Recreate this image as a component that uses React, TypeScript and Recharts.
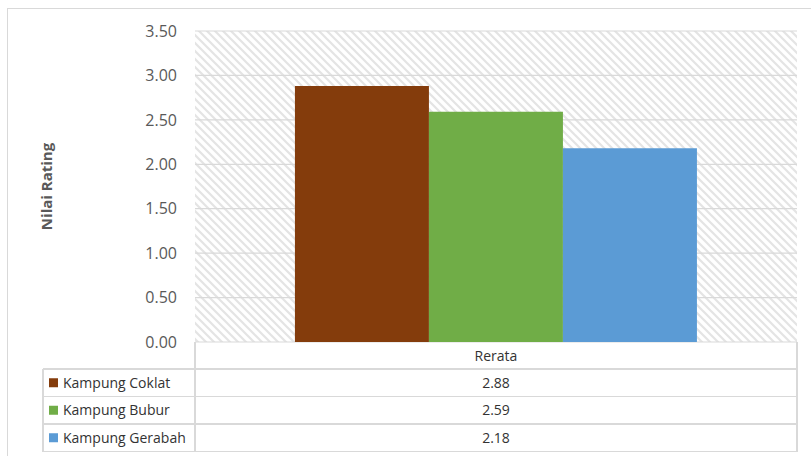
import React from 'react'
import { BarChart, Bar, XAxis, YAxis, CartesianGrid } from 'recharts'

const categories = ['Rerata']
const seriesNames = ['Kampung Coklat', 'Kampung Bubur', 'Kampung Gerabah']
const seriesValues = [2.88, 2.59, 2.18]
const seriesColors = ['#843C0C', '#70AD47', '#5B9BD5']
const yTicks = [0, 0.5, 1, 1.5, 2, 2.5, 3, 3.5]
const yTitle = 'Nilai Rating'

const W = 811
const H = 456
const PLOT_LEFT = 195
const PLOT_RIGHT = 797
const PLOT_TOP = 31
const PLOT_BOTTOM = 342
const TABLE_LEFT = 43
const HEADER_BOTTOM = 369
const ROW_H = 27.5

const FONT = '"Open Sans", "DejaVu Sans", sans-serif'
const GRID = '#d9d9d9'

const data = categories.map((name) => {
  const row: Record<string, string | number> = { name }
  seriesNames.forEach((s, i) => {
    row[s] = seriesValues[i]
  })
  return row
})

const AxisTitle = (props: any) => {
  const vb = props.viewBox || {}
  const x = (vb.x || 0) + 46
  const y = (vb.y || 0) + (vb.height || 0) / 2
  return (
    <text
      x={x}
      y={y}
      transform={`rotate(-90, ${x}, ${y})`}
      textAnchor="middle"
      dominantBaseline="central"
      fontFamily={FONT}
      fontSize={15}
      fontWeight="bold"
      fill="#595959"
    >
      {yTitle}
    </text>
  )
}

const DataTable = () => {
  const rowsTop = HEADER_BOTTOM
  const tableBottom = rowsTop + ROW_H * seriesNames.length
  const midX = (PLOT_LEFT + PLOT_RIGHT) / 2
  return (
    <svg
      width={W}
      height={H}
      style={{ position: 'absolute', left: 0, top: 0, pointerEvents: 'none' }}
    >
      {/* outer chart frame */}
      <rect x={7.5} y={8.5} width={W + 20} height={H + 20} fill="none" stroke={GRID} />
      <g stroke={GRID} strokeWidth={1.2} shapeRendering="crispEdges">
        <line x1={PLOT_LEFT} y1={PLOT_BOTTOM} x2={PLOT_LEFT} y2={tableBottom} />
        <line x1={PLOT_RIGHT} y1={PLOT_BOTTOM} x2={PLOT_RIGHT} y2={tableBottom} />
        <line x1={TABLE_LEFT} y1={rowsTop} x2={TABLE_LEFT} y2={tableBottom} />
        {[0, 1, 2, 3].map((i) => (
          <line
            key={i}
            x1={TABLE_LEFT}
            y1={rowsTop + ROW_H * i}
            x2={PLOT_RIGHT}
            y2={rowsTop + ROW_H * i}
          />
        ))}
      </g>
      {seriesNames.map((s, i) => {
        const cy = rowsTop + ROW_H * i + ROW_H / 2
        return (
          <g key={s} fontFamily={FONT} fontSize={14} fill="#333">
            <rect x={49} y={cy - 4.5} width={9} height={9} fill={seriesColors[i]} />
            <text x={63} y={cy} dy="0.36em">
              {s}
            </text>
            <text x={midX} y={cy} dy="0.36em" textAnchor="middle">
              {seriesValues[i].toFixed(2)}
            </text>
          </g>
        )
      })}
    </svg>
  )
}

export default function App() {
  return (
    <div style={{ position: 'absolute', left: 0, top: 0, width: W, height: H, background: '#fff' }}>
      <svg width={0} height={0} style={{ position: 'absolute' }}>
        <defs>
          <pattern id="hatch" patternUnits="userSpaceOnUse" width={8} height={8}>
            <rect width={8} height={8} fill="#fff" />
            <path
              d="M-1,-1 L9,9 M-1,7 L1,9 M7,-1 L9,1"
              stroke="#e4e4e4"
              strokeWidth={2.2}
            />
          </pattern>
        </defs>
      </svg>
      <BarChart
        width={W}
        height={H}
        data={data}
        margin={{ top: PLOT_TOP, right: W - PLOT_RIGHT, bottom: 0, left: 0 }}
        barCategoryGap="16.6%"
        barGap={0}
      >
        <CartesianGrid
          vertical={false}
          stroke={GRID}
          strokeWidth={1.2}
          fill="url(#hatch)"
          fillOpacity={1}
        />
        <XAxis
          dataKey="name"
          height={H - PLOT_BOTTOM}
          axisLine={false}
          tickLine={false}
          tickSize={0}
          tickMargin={9.5}
          tick={{ fontFamily: FONT, fontSize: 14, fill: '#333' }}
        />
        <YAxis
          width={PLOT_LEFT}
          domain={[0, 3.5]}
          ticks={yTicks}
          interval={0}
          axisLine={false}
          tickLine={false}
          tickSize={0}
          tickMargin={18}
          tickFormatter={(v: number) => v.toFixed(2)}
          tick={{ fontFamily: FONT, fontSize: 16, fill: '#595959' }}
          label={{ content: AxisTitle }}
        />
        {seriesNames.map((s, i) => (
          <Bar key={s} dataKey={s} fill={seriesColors[i]} isAnimationActive={false} />
        ))}
      </BarChart>
      <DataTable />
    </div>
  )
}
